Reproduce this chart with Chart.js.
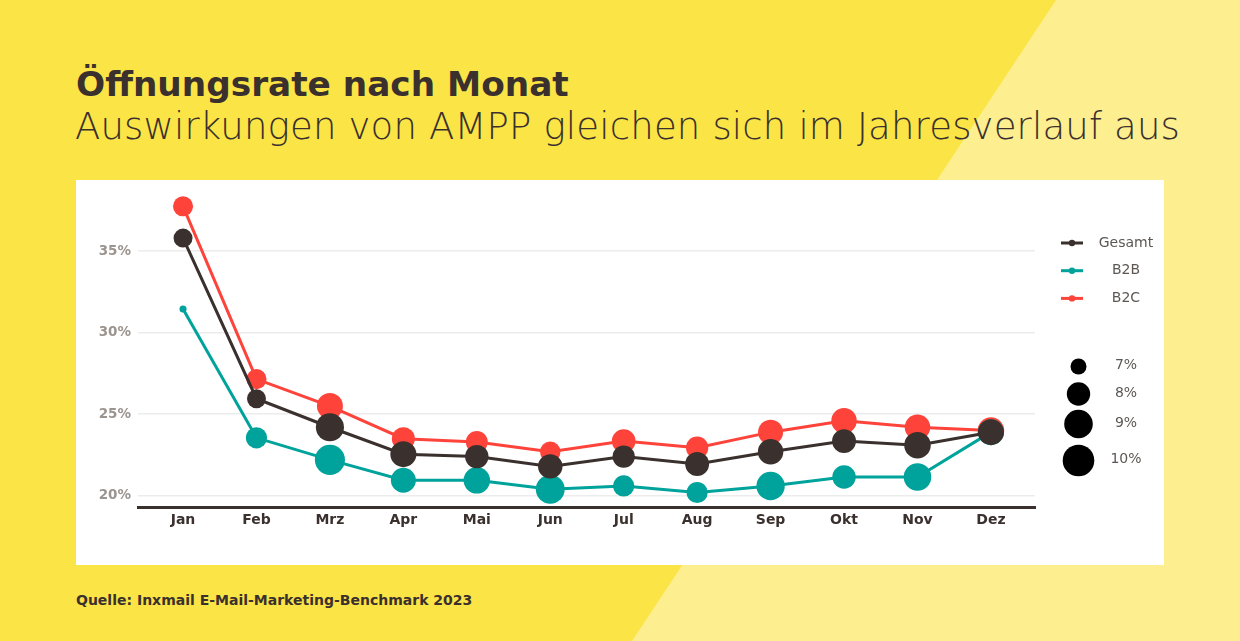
<!DOCTYPE html>
<html lang="de">
<head>
<meta charset="utf-8">
<title>Öffnungsrate nach Monat</title>
<script src="https://cdn.jsdelivr.net/npm/chart.js@4.4.1/dist/chart.umd.min.js"></script>
<style>
  html, body { margin: 0; padding: 0; }
  body {
    width: 1240px; height: 641px; position: relative; overflow: hidden;
    background: #fbe446; font-family: "DejaVu Sans", sans-serif; color: #3a302d;
  }
  #light {
    position: absolute; left: 0; top: 0; width: 1240px; height: 641px; background: #fdee8f;
    clip-path: polygon(1056px 0, 1240px 0, 1240px 641px, 632px 641px);
  }
  #title {
    position: absolute; left: 76px; top: 67px; margin: 0;
    font-size: 34.3px; line-height: 1; font-weight: bold; white-space: nowrap;
  }
  #subtitle {
    position: absolute; left: 75px; top: 108px; margin: 0;
    font-size: 37px; line-height: 1; font-weight: 200; letter-spacing: 0.18px; white-space: nowrap;
  }
  #box { position: absolute; left: 76px; top: 180px; width: 1088px; height: 385px; background: #fff; }
  #source {
    position: absolute; left: 76px; top: 593px; margin: 0;
    font-size: 14px; line-height: 1; font-weight: bold; white-space: nowrap;
  }
</style>
</head>
<body>
<div id="light"></div>
<h1 id="title">Öffnungsrate nach Monat</h1>
<h2 id="subtitle">Auswirkungen von AMPP gleichen sich im Jahresverlauf aus</h2>
<div id="box"><canvas id="chart" width="1088" height="385"></canvas></div>
<p id="source">Quelle: Inxmail E-Mail-Marketing-Benchmark 2023</p>

<script>
// Daten (Öffnungsrate in %)
const months = ['Jan', 'Feb', 'Mrz', 'Apr', 'Mai', 'Jun', 'Jul', 'Aug', 'Sep', 'Okt', 'Nov', 'Dez'];
const gesamt = [35.8, 25.95, 24.2, 22.55, 22.4, 21.8, 22.4, 21.95, 22.7, 23.35, 23.1, 23.9];
const b2b    = [31.45, 23.55, 22.2, 20.95, 20.95, 20.4, 20.6, 20.2, 20.6, 21.15, 21.15, 23.9];
const b2c    = [37.75, 27.15, 25.5, 23.5, 23.3, 22.7, 23.35, 22.95, 23.9, 24.6, 24.2, 24.0];

// Blasengröße (%)
const gesamtSize = [7.4, 7.4, 8.9, 8.5, 8.0, 8.2, 7.85, 8.1, 8.4, 8.1, 8.6, 8.5];
const b2bSize    = [5.8, 7.7, 9.5, 8.3, 8.6, 9.1, 7.7, 7.7, 8.95, 8.0, 8.8, 8.5];
const b2cSize    = [7.55, 7.55, 8.5, 7.95, 7.8, 7.6, 8.05, 7.85, 8.3, 8.4, 8.4, 8.6];

const yTicks = [20, 25, 30, 35];
const sizeTicks = [7, 8, 9, 10];

// Farben
const colGesamt = '#3a302d';
const colB2B = '#00a39b';
const colB2C = '#fe443a';

const sizeSteps = [7, 8, 9, 10];
const radiusSteps = [8, 11.7, 14.3, 15.8];
function radiusFor(v) {
    let i = 0;
    while (i < sizeSteps.length - 2 && v > sizeSteps[i + 1]) i++;
    const t = (v - sizeSteps[i]) / (sizeSteps[i + 1] - sizeSteps[i]);
    return Math.max(2, radiusSteps[i] + t * (radiusSteps[i + 1] - radiusSteps[i]));
}

function makeSet(label, values, sizes, color) {
    return {
        label: label,
        data: values.map((v, i) => ({ x: i, y: v })),
        borderColor: color,
        backgroundColor: color,
        borderWidth: 3,
        tension: 0,
        pointBorderWidth: 0,
        pointRadius: ctx => radiusFor(sizes[ctx.dataIndex]),
        pointHoverRadius: ctx => radiusFor(sizes[ctx.dataIndex]),
    };
}

const series = [
    { label: 'Gesamt', color: colGesamt },
    { label: 'B2B', color: colB2B },
    { label: 'B2C', color: colB2C },
];

// Legende rechts
const sideLegend = {
    id: 'sideLegend',
    afterDraw(chart) {
        const c = chart.ctx;
        c.save();
        c.font = '14px "DejaVu Sans"';
        c.textAlign = 'center';
        c.textBaseline = 'middle';
        series.forEach((s, i) => {
            const y = 63 + i * 27.7;
            c.strokeStyle = s.color;
            c.lineWidth = 3;
            c.beginPath();
            c.moveTo(985, y);
            c.lineTo(1007, y);
            c.stroke();
            c.fillStyle = s.color;
            c.beginPath();
            c.arc(996, y, 3.2, 0, Math.PI * 2);
            c.fill();
            c.fillStyle = '#5d5754';
            c.fillText(s.label, 1050, y);
        });
        const ys = [186.5, 214, 244, 280.5];
        sizeTicks.forEach((v, i) => {
            c.fillStyle = '#000';
            c.beginPath();
            c.arc(1002.5, ys[i], radiusFor(v), 0, Math.PI * 2);
            c.fill();
            c.fillStyle = '#5d5754';
            c.fillText(v + '%', 1050, ys[i] - 1);
        });
        c.restore();
    }
};

new Chart(document.getElementById('chart'), {
    type: 'line',
    data: {
        datasets: [
            makeSet('Gesamt', gesamt, gesamtSize, colGesamt),
            makeSet('B2B', b2b, b2bSize, colB2B),
            makeSet('B2C', b2c, b2cSize, colB2C),
        ],
    },
    options: {
        responsive: false,
        animation: false,
        clip: false,
        layout: { padding: { top: 8, right: 129, left: 0, bottom: 0 } },
        plugins: { legend: { display: false }, tooltip: { enabled: false } },
        scales: {
            x: {
                type: 'linear',
                min: -0.613,
                max: 11.6,
                afterBuildTicks: s => { s.ticks = months.map((m, i) => ({ value: i })); },
                afterFit: s => { s.height = 58; s.paddingLeft = 0; s.paddingRight = 0; },
                grid: { display: false },
                border: { display: true, color: colGesamt, width: 3 },
                ticks: {
                    autoSkip: false,
                    maxRotation: 0,
                    padding: -3,
                    color: colGesamt,
                    font: { family: 'DejaVu Sans', size: 14, weight: 'bold' },
                    callback: v => months[v],
                },
            },
            y: {
                min: 19.31,
                max: 38.55,
                afterBuildTicks: s => { s.ticks = yTicks.map(v => ({ value: v })); },
                afterFit: s => { s.width = 62; s.paddingTop = 0; s.paddingBottom = 0; },
                border: { display: false },
                grid: { color: '#ececec', lineWidth: 1.5, drawTicks: false },
                ticks: {
                    padding: 7,
                    color: '#9c948f',
                    font: { family: 'DejaVu Sans', size: 13.5, weight: 'bold' },
                    callback: v => v + '%',
                },
            },
        },
    },
    plugins: [sideLegend],
});
</script>
</body>
</html>
